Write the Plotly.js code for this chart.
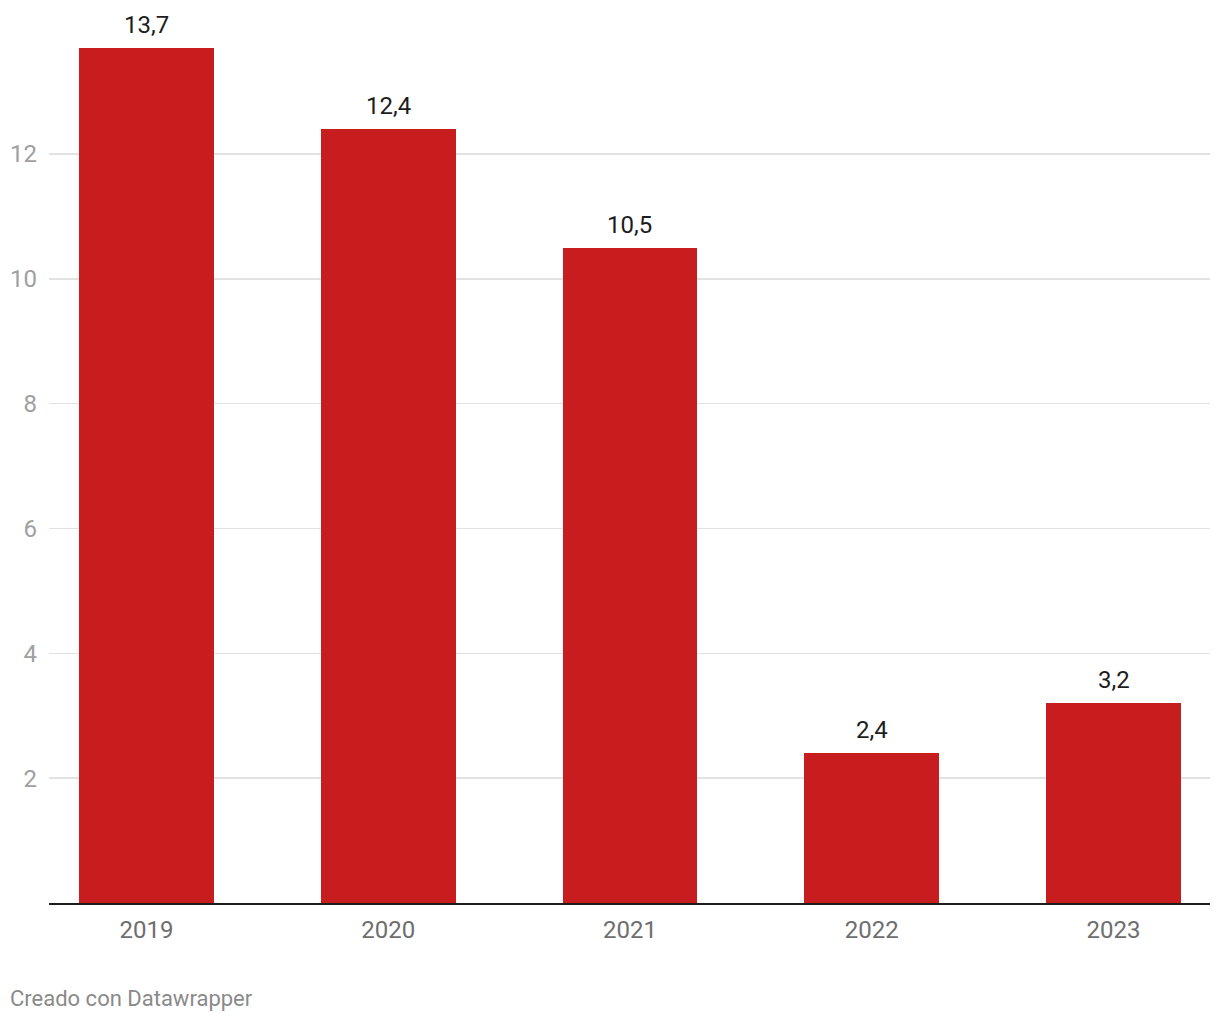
<!DOCTYPE html>
<html>
<head>
<meta charset="utf-8">
<script src="https://cdn.plot.ly/plotly-3.0.1.min.js"></script>
<style>html,body{margin:0;padding:0;background:#fff;}#chart{width:1220px;height:1020px;}</style>
</head>
<body>
<div id="chart"></div>
<script>
const years = ['2019', '2020', '2021', '2022', '2023'];
const values = [13.7, 12.4, 10.5, 2.4, 3.2];
const yTicks = [2, 4, 6, 8, 10, 12];

const trace = {
  type: 'bar',
  x: years,
  y: values,
  width: 0.558,
  marker: {color: '#c81d1e'},
  hoverinfo: 'none'
};

const annotations = years.map((yr, i) => ({
  x: i, y: values[i], xref: 'x', yref: 'y',
  text: values[i].toFixed(1).replace('.', ','),
  showarrow: false, yanchor: 'bottom', yshift: 7,
  font: {family: 'Roboto', size: 24, color: '#1d1d1d'}
}));
annotations.push({
  xref: 'paper', yref: 'paper', x: -41/1161, y: -95/903,
  xanchor: 'left', yanchor: 'middle', showarrow: false,
  text: 'Creado con Datawrapper',
  font: {family: 'Roboto', size: 22, color: '#8a8a8a'}
});

const layout = {
  width: 1220, height: 1020,
  margin: {l: 49, r: 10, t: 0, b: 117},
  paper_bgcolor: '#ffffff', plot_bgcolor: '#ffffff',
  showlegend: false,
  separators: ',.',
  bargap: 0,
  xaxis: {
    type: 'category',
    range: [-0.403, 4.399],
    showgrid: false,
    showline: true, linecolor: '#1d1d1d', linewidth: 2,
    ticks: '', ticklabelstandoff: 4,
    tickfont: {family: 'Roboto', size: 24, color: '#6e6e6e'},
    fixedrange: true
  },
  yaxis: {
    range: [0, 14.467],
    tickvals: yTicks,
    ticktext: yTicks.map(String),
    showgrid: true, gridcolor: '#e2e2e2', gridwidth: 1.5,
    zeroline: false, showline: false,
    ticks: '', ticklabelstandoff: 11,
    tickfont: {family: 'Roboto', size: 24, color: '#a0a0a0'},
    fixedrange: true
  },
  annotations: annotations
};

Plotly.newPlot('chart', [trace], layout, {displayModeBar: false, staticPlot: true});
</script>
</body>
</html>
